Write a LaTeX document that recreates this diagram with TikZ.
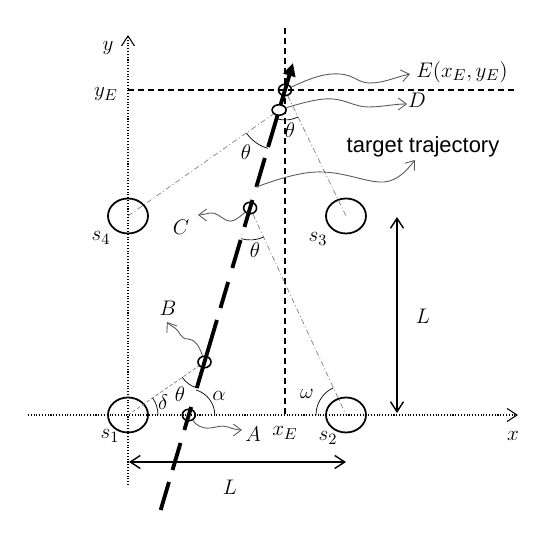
\documentclass[tikz,border=0pt]{standalone}
\usepackage{fontspec}
\newfontfamily\trajfont{Liberation Sans}
\usetikzlibrary{arrows.meta,shapes.geometric,angles}

\tikzset{
  sensor/.style={draw, ellipse, line width=1pt, minimum width=8mm, minimum height=7mm, inner sep=0pt},
  pnt/.style={draw, ellipse, line width=0.9pt, minimum width=2.6mm, minimum height=2.3mm, inner sep=0pt},
  lbl/.style={inner sep=1pt, font=\fontsize{13}{15}\selectfont},
  axis/.style={densely dotted, line width=0.6pt, -{Straight Barb[length=2mm,width=2.6mm]}},
  guide/.style={line width=0.9pt, dash pattern=on 1.2mm off 0.8mm},
  traj/.style={line width=2.2pt},
  sight/.style={gray, line width=0.4pt, dash pattern=on 3pt off 1.5pt on 0.6pt off 1.5pt},
  wave/.style={black!65, line width=0.5pt, -{Straight Barb[length=1.6mm,width=2.4mm]}},
  dim/.style={line width=0.8pt, {Straight Barb[length=2mm,width=2.6mm]}-{Straight Barb[length=2mm,width=2.6mm]}},
  angarc/.style={draw, line width=0.4pt}
}

\begin{document}
\begin{tikzpicture}[x=0.02cm, y=0.02cm]
\useasboundingbox (-128,-118) rectangle (416,415);

\draw[axis] (0,-70) -- (0,380);
\draw[axis] (-100,0) -- (390,0);
\draw[guide] (0,325) -- (387,325);
\draw[guide] (157,387) -- (157,0);

\node[sensor] (s1) at (0,0) {};
\node[sensor] (s2) at (218,0) {};
\node[sensor] (s3) at (218,199) {};
\node[sensor] (s4) at (0,199) {};

\foreach \a/\b in {257/228, 215/188, 175/147, 133/107, 95/27, 8/-15, -28/-55, -67/-95}
  \draw[traj] ({60.8+0.296*\a},\a) -- ({60.8+0.296*\b},\b);
\draw[traj, -{Triangle[length=2.6mm,width=2.4mm]}] ({60.8+0.296*268},268) -- ({60.8+0.296*352},352);
\coordinate (tr) at ({60.8+0.296*228},228);

\node[pnt] (A) at (60.8,0) {};
\node[pnt] (B) at (76.5,53) {};
\node[pnt] (C) at (122.1,207) {};
\node[pnt, fill=white, minimum width=2.8mm, minimum height=2.1mm] (D) at (151.1,305) {};
\node[pnt] (E) at (157,325) {};

\draw[sight] (s4.center) -- (D);
\draw[sight] (E) -- (s3.center);
\draw[sight] (C) -- (s2.center);
\draw[sight, dash pattern=on 2pt off 1.2pt] (s1.center) -- (B);

\pic[angarc, angle radius=6mm] {angle = C--E--s3};
\pic[angarc, angle radius=8mm] {angle = s4--D--C};
\pic[angarc, angle radius=6.4mm] {angle = B--C--s2};
\pic[angarc, angle radius=5.4mm] {angle = s1--B--A};
\pic[angarc, angle radius=5.2mm] {angle = s2--A--B};
\pic[angarc, angle radius=6mm] {angle = A--s1--B};
\pic[angarc, angle radius=6mm] {angle = C--s2--s1};

\node[lbl] (ly) at (-20,367) {$y$};
\node[lbl] (lx) at (385,-21) {$x$};
\node[lbl] (lyE) at (-22,321) {$y_E$};
\node[lbl] (lxE) at (157,-18) {$x_E$};
\node[lbl] (ls1) at (-18,-21) {$s_1$};
\node[lbl] (ls2) at (200,-23) {$s_2$};
\node[lbl] (ls3) at (190,176) {$s_3$};
\node[lbl] (ls4) at (-27,177) {$s_4$};

\node[lbl] (lA) at (125,-19) {$A$};
\node[lbl] (lB) at (40,107) {$B$};
\node[lbl] (lC) at (53,188) {$C$};
\node[lbl] (lD) at (289,315) {$D$};
\node[lbl] (lE) at (334,343) {$E(x_E,y_E)$};
\node[lbl, font=\trajfont\fontsize{12.5}{15}\selectfont] (lT) at (295,268) {target trajectory};

\node[lbl] (thE) at (162,285) {$\theta$};
\node[lbl] (thD) at (118,263) {$\theta$};
\node[lbl] (thC) at (127,165) {$\theta$};
\node[lbl] (thB) at (52,21) {$\theta$};
\node[lbl] (al) at (91,19) {$\alpha$};
\node[lbl] (de) at (35,13) {$\delta$};
\node[lbl] (om) at (179,21) {$\omega$};

\coordinate (tA) at (114,-15);
\coordinate (tB) at (39,93);
\coordinate (tC) at (70,200);
\coordinate (tD) at (279,311);
\coordinate (tE) at (282,341);
\coordinate (tT) at (287,255);

\draw[wave] (A) .. controls (68,-10) and (74,-14) .. (82,-13) .. controls (90,-12) and (94,-10) .. (100,-12) .. controls (105,-14) and (110,-15) .. (tA);
\draw[wave] (B) .. controls (71,70) and (66,76) .. (60,76) .. controls (52,76) and (52,84) .. (47,87) .. controls (44,89) and (41,90) .. (tB);
\draw[wave] (C) .. controls (108,195) and (104,192) .. (98,195) .. controls (92,198) and (88,203) .. (82,202) .. controls (77,201) and (74,200) .. (tC);
\draw[wave] (D) .. controls (180,314) and (195,317) .. (205,316) .. controls (218,315) and (228,308) .. (240,308) .. controls (254,308) and (266,311) .. (tD);
\draw[wave] (E) .. controls (185,338) and (198,342) .. (212,341) .. controls (226,340) and (230,332) .. (242,332) .. controls (256,332) and (268,338) .. (tE);
\draw[wave] (tr) .. controls (150,236) and (175,244) .. (195,243) .. controls (220,242) and (240,232) .. (256,233) .. controls (270,234) and (280,246) .. (tT);

\coordinate (hL) at (1,-47);
\coordinate (hR) at (218,-47);
\coordinate (vB) at (269,2);
\coordinate (vT) at (269,198);
\draw[dim] (hL) -- (hR);
\draw[dim] (vB) -- (vT);
\node[lbl] (lL1) at (102,-72) {$L$};
\node[lbl] (lL2) at (295,99) {$L$};
\end{tikzpicture}
\end{document}
